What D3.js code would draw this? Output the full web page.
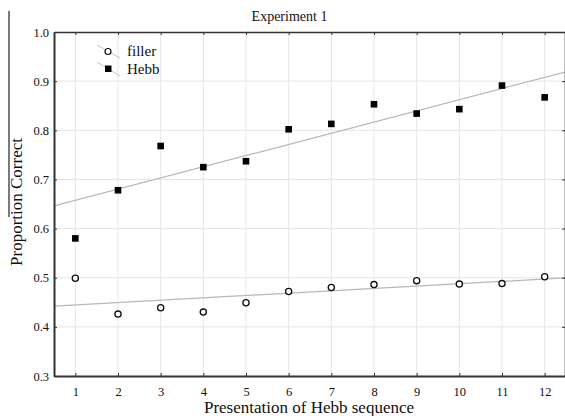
<!DOCTYPE html>
<html><head><meta charset="utf-8">
<script src="https://cdn.jsdelivr.net/npm/d3@7"></script>
<style>
html,body{margin:0;padding:0;background:#fff;}
svg{display:block;}
text{font-family:"Liberation Serif","Times New Roman",serif;fill:#111;}
</style></head>
<body><svg id="c" width="565" height="416"></svg>
<script>
const presentations = [1,2,3,4,5,6,7,8,9,10,11,12];
const hebb   = [0.580,0.678,0.768,0.725,0.737,0.802,0.813,0.853,0.834,0.843,0.891,0.867];
const filler = [0.499,0.426,0.439,0.430,0.449,0.472,0.480,0.486,0.494,0.487,0.488,0.502];
const yTicks = [0.3,0.4,0.5,0.6,0.7,0.8,0.9,1.0];
const title = "Experiment 1";
const xTitle = "Presentation of Hebb sequence";
const yTitle = "Proportion Correct";

const svg = d3.select("#c");
const L=54, R=566, T=32, B=376;
const x = d3.scaleLinear().domain([0.5,12.5]).range([L,R]);
const y = d3.scaleLinear().domain([0.3,1.0]).range([B,T]);

// grid
const g = svg.append("g");
g.selectAll(".gx").data(presentations).join("line")
  .attr("x1",d=>x(d)).attr("x2",d=>x(d)).attr("y1",T).attr("y2",B)
  .attr("stroke","#e6e6e6").attr("stroke-width",1);
g.selectAll(".gy").data(yTicks.slice(1,-1)).join("line")
  .attr("x1",L).attr("x2",R).attr("y1",d=>y(d)).attr("y2",d=>y(d))
  .attr("stroke","#e6e6e6").attr("stroke-width",1);

// regression lines
function fit(xs, ys){
  const mx=d3.mean(xs), my=d3.mean(ys);
  const sxy=d3.sum(xs,(v,i)=>(v-mx)*(ys[i]-my));
  const sxx=d3.sum(xs,v=>(v-mx)*(v-mx));
  const b=sxy/sxx, a=my-b*mx;
  return v=>a+b*v;
}
svg.append("clipPath").attr("id","clip").append("rect").attr("x",L).attr("y",T).attr("width",R-L).attr("height",B-T);
[hebb, filler].forEach(s=>{
  const f = fit(presentations, s);
  const dom = x.domain();
  svg.append("line").attr("clip-path","url(#clip)")
    .attr("x1",x(dom[0])).attr("y1",y(f(dom[0])))
    .attr("x2",x(dom[1])).attr("y2",y(f(dom[1])))
    .attr("stroke","#b8b8b8").attr("stroke-width",1.2);
});

// axes
const axB = svg.append("g").attr("transform",`translate(0,${B})`)
  .call(d3.axisBottom(x).tickValues(presentations).tickFormat(d3.format("d")).tickSizeInner(-3).tickSizeOuter(0).tickPadding(11));
const axL = svg.append("g").attr("transform",`translate(${L},0)`)
  .call(d3.axisLeft(y).tickValues(yTicks).tickFormat(d3.format(".1f")).tickSizeInner(-3).tickSizeOuter(0).tickPadding(5));
const axT = svg.append("g").attr("transform",`translate(0,${T})`)
  .call(d3.axisTop(x).tickValues(presentations).tickFormat("").tickSizeInner(-3).tickSizeOuter(0));
const axR = svg.append("g").attr("transform",`translate(${R-1},0)`)
  .call(d3.axisRight(y).tickValues(yTicks).tickFormat("").tickSizeInner(-3).tickSizeOuter(0));
[axB,axL,axT,axR].forEach(a=>{
  a.selectAll("text").style("font-family","'Liberation Serif',serif").style("font-size","12.5px").attr("fill","#111");
  a.selectAll(".tick line").attr("stroke","#333");
});
axB.select(".domain").attr("stroke","#333").attr("stroke-width",2);
axL.select(".domain").attr("stroke","#333").attr("stroke-width",2);
axT.select(".domain").attr("stroke","#333").attr("stroke-width",1.6);
axR.select(".domain").attr("stroke","#333").attr("stroke-width",1.6);

// points
svg.selectAll(".hb").data(hebb).join("rect")
  .attr("x",(d,i)=>x(presentations[i])-3.3).attr("y",d=>y(d)-3.3)
  .attr("width",6.6).attr("height",6.6).attr("fill","#000");
svg.selectAll(".fl").data(filler).join("circle")
  .attr("cx",(d,i)=>x(presentations[i])).attr("cy",d=>y(d)).attr("r",3.1)
  .attr("fill","#fff").attr("stroke","#111").attr("stroke-width",1.3);

// legend
const leg = svg.append("g");
leg.append("line").attr("x1",97).attr("y1",45).attr("x2",120).attr("y2",58).attr("stroke","#c4c4c4");
leg.append("circle").attr("cx",108).attr("cy",51.5).attr("r",3).attr("fill","#fff").attr("stroke","#111").attr("stroke-width",1.2);
leg.append("text").attr("x",127).attr("y",56).style("font-size","15px").text("filler");
leg.append("line").attr("x1",97).attr("y1",62).attr("x2",120).attr("y2",76).attr("stroke","#c4c4c4");
leg.append("rect").attr("x",105).attr("y",65.5).attr("width",6.5).attr("height",6.5).attr("fill","#000");
leg.append("text").attr("x",127).attr("y",74).style("font-size","15px").text("Hebb");

// titles
svg.append("text").attr("x",289.5).attr("y",21).attr("text-anchor","middle").style("font-size","14px").text(title);
svg.append("text").attr("x",309).attr("y",413).attr("text-anchor","middle").style("font-size","17px").text(xTitle);
svg.append("text").attr("transform","translate(22,202) rotate(-90)").attr("text-anchor","middle").style("font-size","17px").text(yTitle);
svg.append("line").attr("x1",9).attr("x2",9).attr("y1",11).attr("y2",217).attr("stroke","#222").attr("stroke-width",1.2);
</script></body></html>
